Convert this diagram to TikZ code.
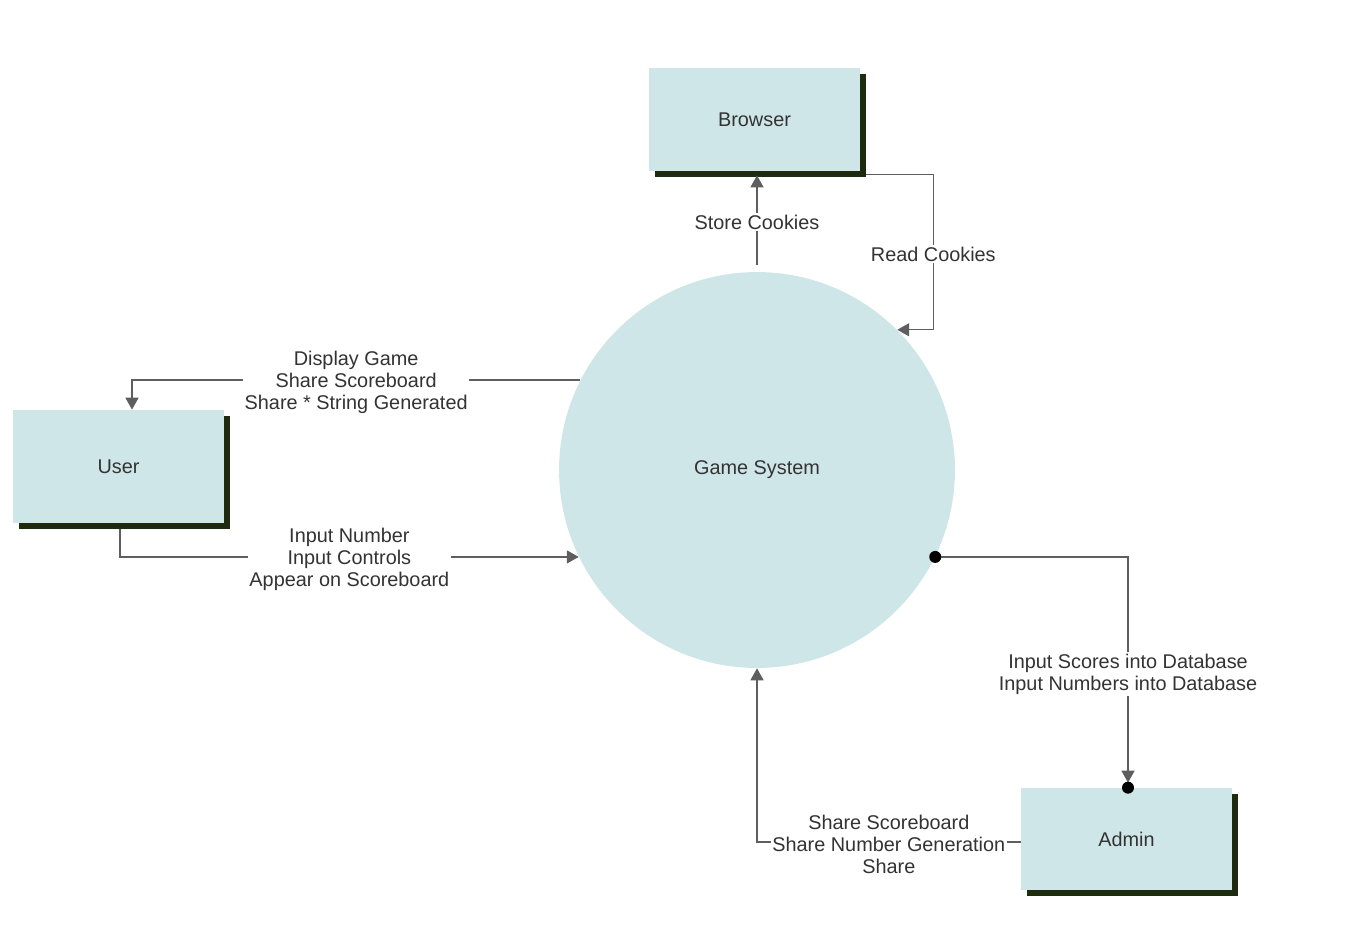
\documentclass[tikz,border=0pt]{standalone}
\usepackage{fontspec}
\setmainfont{Liberation Sans}
\usepackage{tikz}
\usetikzlibrary{positioning, calc}
\usetikzlibrary{arrows.meta}
\usetikzlibrary{shapes,shadows}
\definecolor{boxfill}{HTML}{CFE6E8}
\definecolor{boxshade}{HTML}{1F2B0F}
\definecolor{flowline}{HTML}{5E5E5E}
\definecolor{labeltext}{HTML}{333333}

\begin{document}
\begin{tikzpicture}[x=0.02cm,y=-0.02cm,>={Triangle[length=0.24cm,width=0.26cm]},font=\fontsize{11.3}{12.5}\selectfont]
	\tikzstyle{e-node}=[rectangle,fill=boxfill,text=labeltext,minimum width=4.22cm,inner sep=0pt,drop shadow={fill=boxshade,opacity=1,shadow xshift=0.12cm,shadow yshift=-0.12cm}]
	\tikzstyle{p-node}=[circle,fill=boxfill,text=labeltext,minimum size=7.92cm,inner sep=0pt]
	\tikzstyle{flow}=[draw=flowline,line width=0.8pt]
	\tikzstyle{f-label}=[fill=white,text=labeltext,align=center,inner sep=1pt,yshift=-0.04cm]
	\useasboundingbox (0,0) rectangle (1352,939);

	% process
	\node[p-node] 	(game)		at (757,470)		{Game System};

	% external entities
	\node[e-node,minimum height=2.06cm] 	(browser)	at (754.5,119.5)	{Browser};
	\node[e-node,minimum height=2.26cm] 	(user)		at (118.5,466.5)	{User};
	\node[e-node,minimum height=2.04cm] 	(admin)		at (1126.5,839)		{Admin};

	% flows
	\draw[flow,->] ([yshift=0.14cm]game.north) -- node[f-label] {Store Cookies} ([yshift=-0.08cm]browser.south -| game.north);
	\draw[flow,->] ([xshift=0.12cm,yshift=-0.06cm]browser.south east) -- ++(67,0) |- node[f-label,pos=0.25] {Read Cookies} (game.45);
	\draw[flow,->] (game.153.3) -| node[f-label,pos=0.25] {Display Game\\Share Scoreboard\\Share * String Generated} ([xshift=0.27cm]user.north);
	\draw[flow,->] ([xshift=0.03cm,yshift=-0.12cm]user.south) |- node[f-label,pos=0.75] {Input Number\\Input Controls\\Appear on Scoreboard} (game.206.4);
	\draw[flow,->,shorten >=0.1cm] (game.-26.6) -| node[f-label,pos=0.75] {Input Scores into Database\\Input Numbers into Database} ([xshift=0.03cm]admin.north);
	\fill (game.-26.6) circle (0.12cm);
	\fill ([xshift=0.03cm]admin.north) circle (0.12cm);
	\draw[flow,->] ([yshift=-0.06cm]admin.west) -| node[f-label,pos=0.25] {Share Scoreboard\\Share Number Generation\\Share} (game.south);

\end{tikzpicture}
\end{document}
